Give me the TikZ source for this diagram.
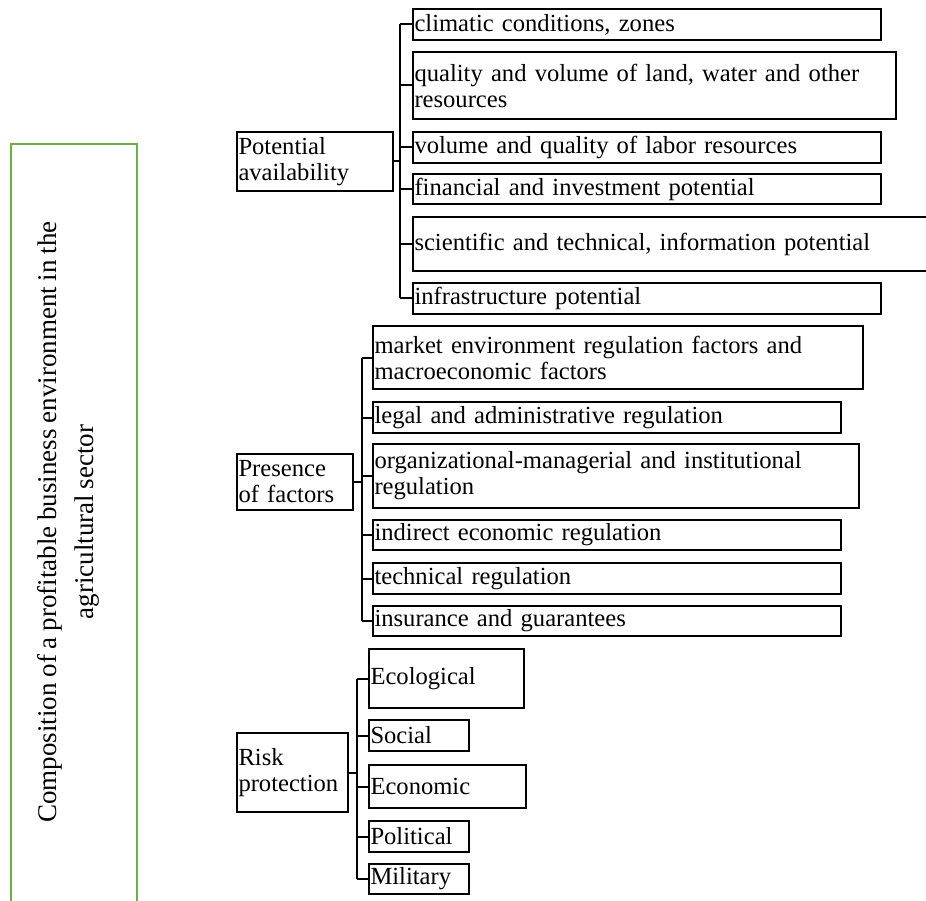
\documentclass[tikz,border=0pt]{standalone}
\usepackage{fontspec}
\setmainfont[WordSpace=0.85]{Liberation Serif}
\definecolor{officegreen}{RGB}{112,173,71}
\tikzset{
  box/.style={draw=black, line width=2pt, inner xsep=1.5pt, inner ysep=0pt, align=left, font=\fontsize{24.6}{26}\selectfont},
  conn/.style={draw=black, line width=2pt},
  trunk/.style={draw=black, line width=2.5pt},
  greenbox/.style={draw=officegreen, line width=2pt}
}
\newcommand\bx[6]{%
  \pgfmathsetmacro\bxw{#4-#2}\pgfmathsetmacro\bxh{#5-#3}\pgfmathsetmacro\bxt{#4-#2-3}%
  \node[box,anchor=north west,minimum width=\bxw pt,minimum height=\bxh pt,text width=\bxt pt] (#1) at (#2,#3) {#6};}
\begin{document}
\begin{tikzpicture}[x=1pt,y=-1pt]
\useasboundingbox (0,0) rectangle (926,901);
\clip (0,0) rectangle (926,901);
% left green box
\node[greenbox, minimum width=126pt, minimum height=762pt, anchor=north west] (comp) at (10,143) {};
\node[rotate=90, align=center, inner sep=0pt, font=\fontsize{27}{37}\selectfont] (comptext) at (68,522)
  {Composition of a profitable business environment in the\\agricultural sector};
% Potential availability
\bx{pa}{236}{131}{392}{190}{Potential\\availability}
\bx{p1}{412}{8}{880}{39}{climatic conditions, zones}
\bx{p2}{412}{51}{895}{118}{quality and volume of land, water and other\\resources}
\bx{p3}{412}{131}{880}{162}{volume and quality of labor resources}
\bx{p4}{412}{173}{880}{203}{financial and investment potential}
\bx{p5}{412}{216}{940}{270}{scientific and technical, information potential}
\bx{p6}{412}{282}{880}{313}{infrastructure potential}
\coordinate (ta) at (400,0);
\draw[conn] (pa.east) -- (pa.east -| ta);
\draw[trunk] (p1.west -| ta) -- (p6.west -| ta);
\foreach \n in {p1,p2,p3,p4,p5,p6} \draw[conn] (\n.west -| ta) -- (\n.west);
% Presence of factors
\bx{pf}{236}{453}{352}{509}{Presence\\of factors}
\bx{f1}{372}{325}{862}{388}{market environment regulation factors and\\macroeconomic factors}
\bx{f2}{372}{401}{840}{432}{legal and administrative regulation}
\bx{f3}{372}{443}{858}{507}{organizational-managerial and institutional\\regulation}
\bx{f4}{372}{519}{840}{549}{indirect economic regulation}
\bx{f5}{372}{562}{840}{593}{technical regulation}
\bx{f6}{372}{605}{840}{635}{insurance and guarantees}
\coordinate (tf) at (362,0);
\draw[conn] (pf.east) -- (pf.east -| tf);
\draw[trunk] (f1.west -| tf) -- (f6.west -| tf);
\foreach \n in {f1,f2,f3,f4,f5,f6} \draw[conn] (\n.west -| tf) -- (\n.west);
% Risk protection
\bx{rp}{236}{732}{347}{811}{Risk\\protection}
\bx{r1}{368}{648}{523}{707}{Ecological}
\bx{r2}{368}{719}{468}{750}{Social}
\bx{r3}{368}{764}{525}{807}{Economic}
\bx{r4}{368}{820}{468}{851}{Political}
\bx{r5}{368}{863}{468}{893}{Military}
\coordinate (tr) at (357,0);
\draw[conn] (rp.east) -- (rp.east -| tr);
\draw[trunk] (r1.west -| tr) -- (r5.west -| tr);
\foreach \n in {r1,r2,r3,r4,r5} \draw[conn] (\n.west -| tr) -- (\n.west);
\end{tikzpicture}
\end{document}
